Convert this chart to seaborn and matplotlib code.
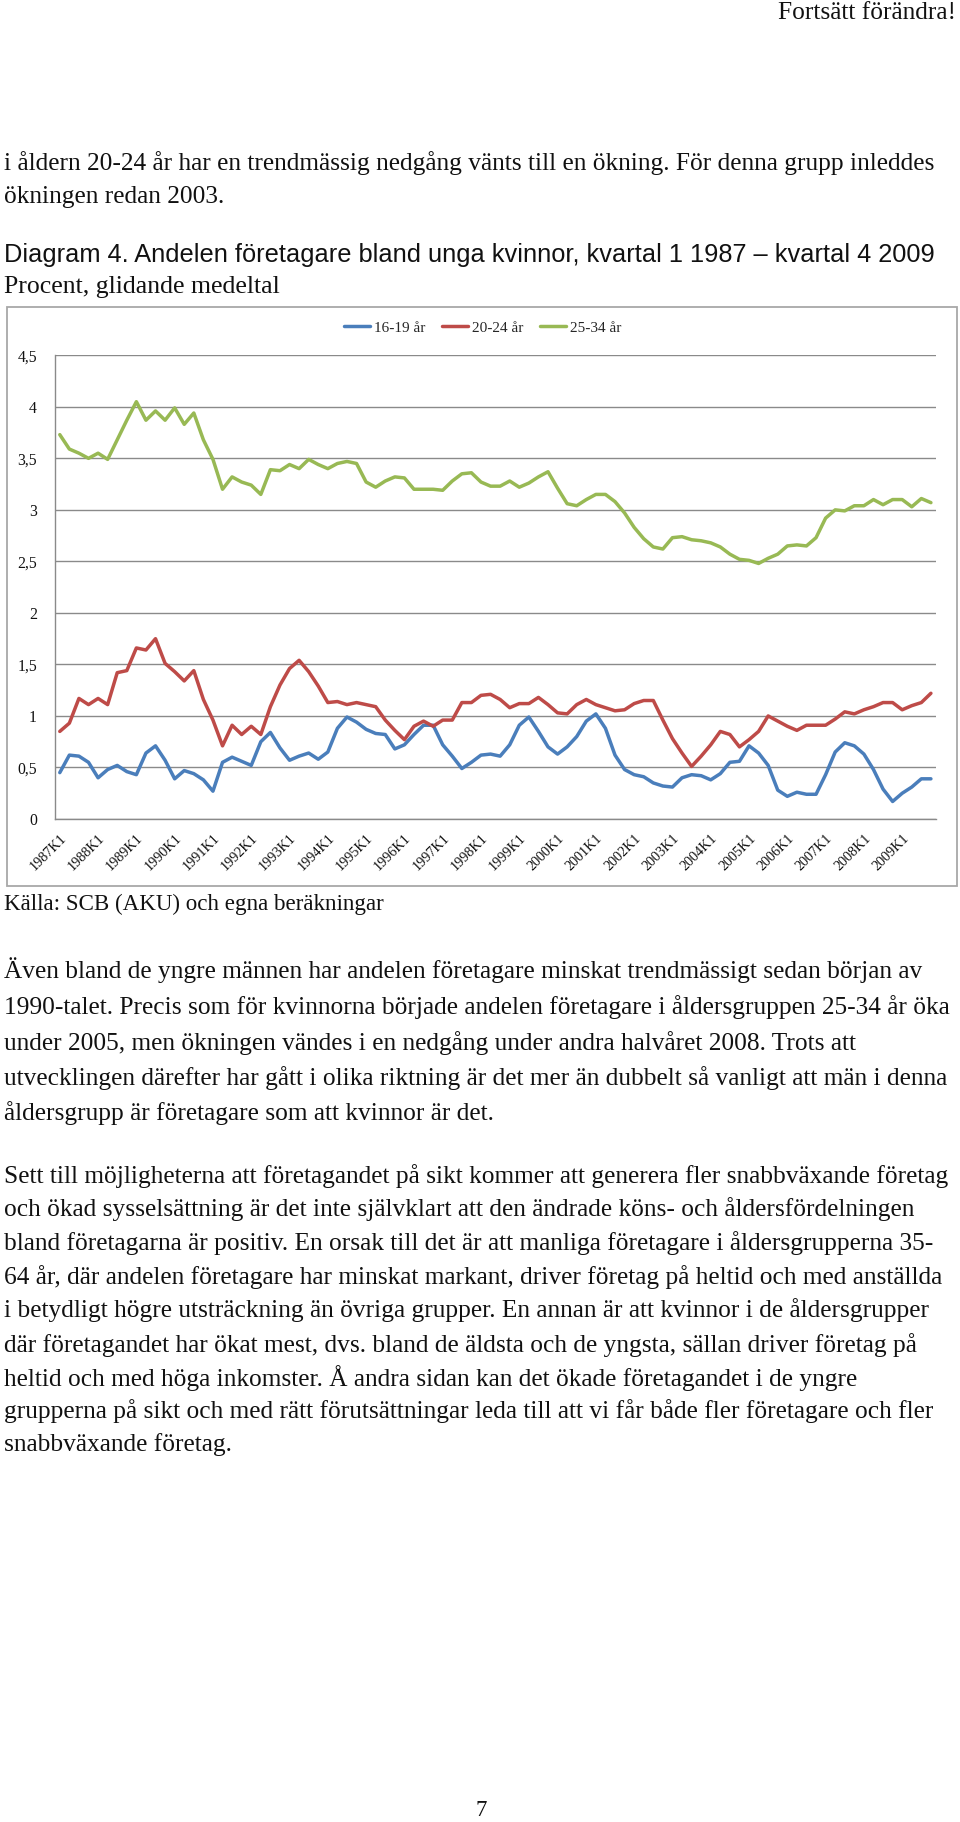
import numpy as np
import pandas as pd
import matplotlib
matplotlib.use("Agg")
import matplotlib.pyplot as plt
import seaborn as sns
from matplotlib.patches import Rectangle

# ---------------- data ----------------
years = ["1987", "1988", "1989", "1990", "1991", "1992", "1993", "1994", "1995", "1996",
         "1997", "1998", "1999", "2000", "2001", "2002", "2003", "2004", "2005", "2006",
         "2007", "2008", "2009"]
quarters = [f"{y}K{q}" for y in years for q in (1, 2, 3, 4)]
tick_labels = [f"{y}K1" for y in years]

series_names = ["16-19 år", "20-24 år", "25-34 år"]

v_16_19 = [0.45, 0.62, 0.61, 0.55, 0.40, 0.48, 0.52, 0.46, 0.43, 0.64,
           0.71, 0.57, 0.39, 0.47, 0.44, 0.38, 0.27, 0.55, 0.60, 0.56,
           0.52, 0.75, 0.84, 0.69, 0.57, 0.61, 0.64, 0.58, 0.65, 0.88,
           0.99, 0.94, 0.87, 0.83, 0.82, 0.68, 0.72, 0.82, 0.91, 0.91,
           0.72, 0.61, 0.49, 0.55, 0.62, 0.63, 0.61, 0.72, 0.91, 0.99,
           0.85, 0.70, 0.63, 0.70, 0.80, 0.95, 1.02, 0.88, 0.62, 0.48,
           0.43, 0.41, 0.35, 0.32, 0.31, 0.40, 0.43, 0.42, 0.38, 0.44,
           0.55, 0.56, 0.71, 0.64, 0.52, 0.28, 0.22, 0.26, 0.24, 0.24,
           0.43, 0.65, 0.74, 0.71, 0.63, 0.48, 0.29, 0.17, 0.25, 0.31,
           0.39, 0.39]

v_20_24 = [0.85, 0.93, 1.17, 1.11, 1.17, 1.11, 1.42, 1.44, 1.66, 1.64,
           1.75, 1.51, 1.43, 1.34, 1.44, 1.16, 0.96, 0.71, 0.91, 0.82,
           0.90, 0.82, 1.09, 1.30, 1.46, 1.54, 1.43, 1.29, 1.13, 1.14,
           1.11, 1.13, 1.11, 1.09, 0.96, 0.86, 0.77, 0.90, 0.95, 0.90,
           0.96, 0.96, 1.13, 1.13, 1.20, 1.21, 1.16, 1.08, 1.12, 1.12,
           1.18, 1.11, 1.03, 1.02, 1.11, 1.16, 1.11, 1.08, 1.05, 1.06,
           1.12, 1.15, 1.15, 0.96, 0.78, 0.64, 0.51, 0.61, 0.72, 0.85,
           0.82, 0.70, 0.77, 0.85, 1.00, 0.95, 0.90, 0.86, 0.91, 0.91,
           0.91, 0.97, 1.04, 1.02, 1.06, 1.09, 1.13, 1.13, 1.06, 1.10,
           1.13, 1.22]

v_25_34 = [3.73, 3.59, 3.55, 3.50, 3.55, 3.49, 3.68, 3.87, 4.05, 3.87,
           3.96, 3.87, 3.99, 3.83, 3.94, 3.68, 3.49, 3.20, 3.32, 3.27,
           3.24, 3.15, 3.39, 3.38, 3.44, 3.40, 3.49, 3.44, 3.40, 3.45,
           3.47, 3.45, 3.27, 3.22, 3.28, 3.32, 3.31, 3.20, 3.20, 3.20,
           3.19, 3.28, 3.35, 3.36, 3.27, 3.23, 3.23, 3.28, 3.22, 3.26,
           3.32, 3.37, 3.21, 3.06, 3.04, 3.10, 3.15, 3.15, 3.08, 2.97,
           2.83, 2.72, 2.64, 2.62, 2.73, 2.74, 2.71, 2.70, 2.68, 2.64,
           2.57, 2.52, 2.51, 2.48, 2.53, 2.57, 2.65, 2.66, 2.65, 2.73,
           2.92, 3.00, 2.99, 3.04, 3.04, 3.10, 3.05, 3.10, 3.10, 3.03,
           3.11, 3.07]

y_ticks = [0, 0.5, 1, 1.5, 2, 2.5, 3, 3.5, 4, 4.5]
y_tick_labels = ["0", "0,5", "1", "1,5", "2", "2,5", "3", "3,5", "4", "4,5"]

# ---------------- page text ----------------
header = "Fortsätt förändra!"
intro_lines = [
    "i åldern 20-24 år har en trendmässig nedgång vänts till en ökning. För denna grupp inleddes",
    "ökningen redan 2003.",
]
title = "Diagram 4. Andelen företagare bland unga kvinnor, kvartal 1 1987 – kvartal 4 2009"
subtitle = "Procent, glidande medeltal"
source = "Källa: SCB (AKU) och egna beräkningar"
para1 = [
    "Även bland de yngre männen har andelen företagare minskat trendmässigt sedan början av",
    "1990-talet. Precis som för kvinnorna började andelen företagare i åldersgruppen 25-34 år öka",
    "under 2005, men ökningen vändes i en nedgång under andra halvåret 2008. Trots att",
    "utvecklingen därefter har gått i olika riktning är det mer än dubbelt så vanligt att män i denna",
    "åldersgrupp är företagare som att kvinnor är det.",
]
para2 = [
    "Sett till möjligheterna att företagandet på sikt kommer att generera fler snabbväxande företag",
    "och ökad sysselsättning är det inte självklart att den ändrade köns- och åldersfördelningen",
    "bland företagarna är positiv. En orsak till det är att manliga företagare i åldersgrupperna 35-",
    "64 år, där andelen företagare har minskat markant, driver företag på heltid och med anställda",
    "i betydligt högre utsträckning än övriga grupper. En annan är att kvinnor i de åldersgrupper",
    "där företagandet har ökat mest, dvs. bland de äldsta och de yngsta, sällan driver företag på",
    "heltid och med höga inkomster. Å andra sidan kan det ökade företagandet i de yngre",
    "grupperna på sikt och med rätt förutsättningar leda till att vi får både fler företagare och fler",
    "snabbväxande företag.",
]
page_no = "7"

# ---------------- setup ----------------
sns.set_theme(style="white")
SERIF = ["Liberation Serif", "DejaVu Serif"]
SANS = ["Liberation Sans", "DejaVu Sans"]
plt.rcParams["font.family"] = SERIF

W, H = 960, 1822
fig = plt.figure(figsize=(W / 100, H / 100), dpi=100)
fig.patch.set_facecolor("white")


def fx(px):
    return px / W


def fy(py):
    return 1 - py / H


renderer = fig.canvas.get_renderer()


def fit_block(lines, ys, rights, family, x=4.0, base=16.0):
    texts = [fig.text(fx(x), fy(y), s, fontsize=base, family=family,
                      va="center", ha="left", color="#111111")
             for s, y in zip(lines, ys)]
    ratios = []
    for t, r in zip(texts, rights):
        bb = t.get_window_extent(renderer)
        ratios.append((r - x) / bb.width)
    k = float(np.median(ratios))
    for t in texts:
        t.set_fontsize(base * k)
    return texts


# header (right aligned)
ht = fig.text(fx(956), fy(13), header, fontsize=16, family=SERIF, ha="right", va="center",
              color="#111111")
bb = ht.get_window_extent(renderer)
ht.set_fontsize(16 * 178 / bb.width)

body_all = intro_lines + para1 + para2
body_ys = [163, 197] + [970, 1007, 1043, 1078, 1113] + [1176, 1209, 1243, 1277, 1310, 1345, 1378, 1411, 1445]
body_rights = [934, 222] + [925, 952, 860, 948, 493] + [950, 917, 930, 945, 932, 920, 862, 933, 233]
fit_block(body_all, body_ys, body_rights, SERIF)

fit_block([title], [255], [933], SANS)
fit_block([subtitle], [287], [279], SERIF)
fit_block([source], [904], [385], SERIF)

fig.text(fx(481), fy(1810), page_no, fontsize=16.5, family=SERIF, ha="center", va="center",
         color="#111111")

# chart frame
fig.add_artist(Rectangle((fx(7), fy(886)), (957 - 7) / W, (886 - 307) / H,
                         transform=fig.transFigure, fill=False, ec="#a8a8a8", lw=1.3))

# ---------------- chart ----------------
ax = fig.add_axes([fx(55), fy(819), (935.7 - 55) / W, (819 - 355.3) / H])
ax.set_facecolor("white")

df = pd.DataFrame({
    "pos": list(range(len(quarters))) * 3,
    "kvartal": quarters * 3,
    "andel": v_16_19 + v_20_24 + v_25_34,
    "grupp": [series_names[0]] * len(quarters) + [series_names[1]] * len(quarters)
             + [series_names[2]] * len(quarters),
})
palette = {series_names[0]: "#4A7EBB", series_names[1]: "#BE4B48", series_names[2]: "#98B954"}
sns.lineplot(data=df, x="pos", y="andel", hue="grupp", palette=palette, linewidth=2.5,
             ax=ax, errorbar=None, sort=False)

handles, labels = ax.get_legend_handles_labels()
ax.get_legend().remove()
fig.legend(handles, labels, loc="center", bbox_to_anchor=(fx(483), fy(328)), ncol=3,
           frameon=False, handlelength=1.7, handletextpad=0.25,
           columnspacing=1.1, prop={"family": SERIF, "size": 11})

ax.set_xlim(-0.5, len(quarters) - 0.5)
ax.set_ylim(0, 4.5)
ax.set_yticks(y_ticks)
ax.set_yticklabels(y_tick_labels, fontsize=11.3, family=SERIF, color="#111111")
ax.set_xticks(list(range(0, len(quarters), 4)))
ax.set_xticklabels(tick_labels, rotation=45, ha="right", rotation_mode="anchor",
                   fontsize=10.2, family=SERIF, color="#111111")
ax.set_xticks(np.arange(-0.5, len(quarters), 4), minor=True)
ax.tick_params(axis="x", which="major", length=0, pad=9)
ax.tick_params(axis="x", which="minor", length=5, color="#8a8a8a", width=1, direction="out")
ax.tick_params(axis="y", which="major", length=5, color="#8a8a8a", width=1, direction="out", pad=8)
ax.set_xlabel("")
ax.set_ylabel("")
ax.yaxis.grid(True, color="#8a8a8a", lw=1)
ax.xaxis.grid(False)
ax.set_axisbelow(True)
for s in ("top", "right"):
    ax.spines[s].set_visible(False)
for s in ("left", "bottom"):
    ax.spines[s].set_color("#8a8a8a")
    ax.spines[s].set_linewidth(1)

fig.savefig("out.png", dpi=100, facecolor="white")
